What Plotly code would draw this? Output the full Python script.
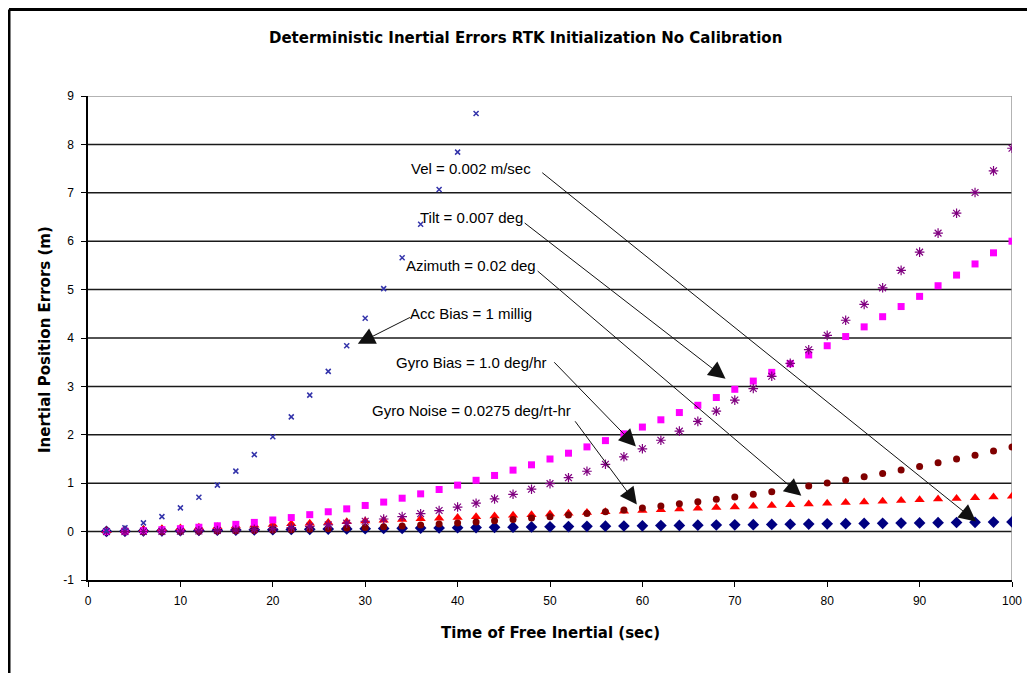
import plotly.graph_objects as go

# ---------------- data ----------------
time_s = [2, 4, 6, 8, 10, 12, 14, 16, 18, 20, 22, 24, 26, 28, 30, 32, 34, 36, 38, 40,
          42, 44, 46, 48, 50, 52, 54, 56, 58, 60, 62, 64, 66, 68, 70, 72, 74, 76, 78, 80,
          82, 84, 86, 88, 90, 92, 94, 96, 98, 100]

acc_time = [2, 4, 6, 8, 10, 12, 14, 16, 18, 20, 22, 24, 26, 28, 30, 32, 34, 36, 38, 40, 42]
acc_bias_err = [0.02, 0.08, 0.18, 0.31, 0.49, 0.71, 0.96, 1.25, 1.59, 1.96, 2.37, 2.82,
                3.31, 3.84, 4.41, 5.02, 5.66, 6.35, 7.07, 7.84, 8.64]

vel_err = [0.004, 0.008, 0.012, 0.016, 0.02, 0.024, 0.028, 0.032, 0.036, 0.04, 0.044, 0.048,
           0.052, 0.056, 0.06, 0.064, 0.068, 0.072, 0.076, 0.08, 0.084, 0.088, 0.092, 0.096,
           0.10, 0.104, 0.108, 0.112, 0.116, 0.12, 0.124, 0.128, 0.132, 0.136, 0.14, 0.144,
           0.148, 0.152, 0.156, 0.16, 0.164, 0.168, 0.172, 0.176, 0.18, 0.184, 0.188, 0.192,
           0.196, 0.20]

tilt_err = [0.002, 0.01, 0.02, 0.04, 0.06, 0.09, 0.12, 0.15, 0.19, 0.24, 0.29, 0.35, 0.41,
            0.47, 0.54, 0.61, 0.69, 0.78, 0.87, 0.96, 1.06, 1.16, 1.27, 1.38, 1.50, 1.62,
            1.75, 1.88, 2.02, 2.16, 2.31, 2.46, 2.61, 2.77, 2.94, 3.11, 3.29, 3.47, 3.65,
            3.84, 4.03, 4.23, 4.44, 4.65, 4.86, 5.08, 5.30, 5.53, 5.76, 6.00]

azimuth_err = [0.015, 0.03, 0.044, 0.058, 0.073, 0.088, 0.10, 0.117, 0.13, 0.146, 0.16,
               0.175, 0.19, 0.204, 0.22, 0.234, 0.248, 0.263, 0.277, 0.29, 0.307, 0.32,
               0.336, 0.35, 0.365, 0.38, 0.394, 0.41, 0.423, 0.438, 0.45, 0.467, 0.48,
               0.496, 0.51, 0.526, 0.54, 0.555, 0.57, 0.584, 0.60, 0.613, 0.628, 0.642,
               0.657, 0.672, 0.686, 0.70, 0.715, 0.73]

gyro_bias_err = [0.0001, 0.0005, 0.002, 0.004, 0.008, 0.014, 0.022, 0.032, 0.046, 0.063,
                 0.084, 0.109, 0.139, 0.174, 0.214, 0.26, 0.311, 0.37, 0.435, 0.507, 0.587,
                 0.675, 0.771, 0.876, 0.99, 1.114, 1.247, 1.391, 1.545, 1.711, 1.887, 2.076,
                 2.277, 2.49, 2.717, 2.956, 3.209, 3.477, 3.758, 4.055, 4.367, 4.694, 5.037,
                 5.397, 5.774, 6.167, 6.578, 7.007, 7.454, 7.92]

gyro_noise_err = [0.0001, 0.0006, 0.0015, 0.0032, 0.0055, 0.0087, 0.0128, 0.0179, 0.0241,
                  0.0313, 0.0397, 0.0494, 0.0603, 0.0726, 0.0863, 0.101, 0.118, 0.136, 0.156,
                  0.177, 0.20, 0.225, 0.251, 0.279, 0.309, 0.341, 0.375, 0.411, 0.448, 0.488,
                  0.53, 0.573, 0.619, 0.667, 0.717, 0.77, 0.824, 0.881, 0.94, 1.002, 1.066,
                  1.132, 1.20, 1.271, 1.345, 1.421, 1.499, 1.58, 1.664, 1.75]

y_ticks = [-1, 0, 1, 2, 3, 4, 5, 6, 7, 8, 9]
y_tick_labels = ["-1", "0", "1", "2", "3", "4", "5", "6", "7", "8", "9"]
x_ticks = [0, 10, 20, 30, 40, 50, 60, 70, 80, 90, 100]

label_texts = ["Vel = 0.002 m/sec", "Tilt = 0.007 deg", "Azimuth = 0.02 deg",
               "Acc Bias = 1 millig", "Gyro Bias = 1.0 deg/hr",
               "Gyro Noise = 0.0275 deg/rt-hr"]
label_y = [7.5, 6.5, 5.5, 4.5, 3.5, 2.5]
arrow_tail_x = [49.0, 47.1, 48.5, 35.0, 50.3, 52.6]
arrow_tail_y = [7.44, 6.40, 5.41, 4.44, 3.53, 2.31]
arrow_tip_x = [96.1, 69.0, 77.2, 29.2, 59.3, 59.4]
arrow_tip_y = [0.21, 3.16, 0.74, 3.88, 1.76, 0.56]

FONT = "Liberation Sans, Arial, sans-serif"
BOLD_FONT = "DejaVu Sans, Arial, sans-serif"

fig = go.Figure()

fig.add_trace(go.Scatter(x=time_s, y=vel_err, mode="markers", name="Vel",
                         marker=dict(symbol="diamond", size=9, color="#000080")))
fig.add_trace(go.Scatter(x=time_s, y=azimuth_err, mode="markers", name="Azimuth",
                         marker=dict(symbol="triangle-up", size=9, color="#FF0000")))
fig.add_trace(go.Scatter(x=time_s, y=gyro_noise_err, mode="markers", name="Gyro Noise",
                         marker=dict(symbol="circle", size=7, color="#800000")))
fig.add_trace(go.Scatter(x=time_s, y=tilt_err, mode="markers", name="Tilt",
                         marker=dict(symbol="square", size=7, color="#FF00FF")))
fig.add_trace(go.Scatter(x=time_s, y=gyro_bias_err, mode="markers", name="Gyro Bias",
                         marker=dict(symbol="asterisk-open", size=8, color="#800080",
                                     line=dict(color="#800080", width=1.2))))
fig.add_trace(go.Scatter(x=acc_time, y=acc_bias_err, mode="markers", name="Acc Bias",
                         marker=dict(symbol="x-thin-open", size=5, color="#3333AA",
                                     line=dict(color="#3333AA", width=1.5))))

shapes = []
for v in y_ticks[1:-1]:
    shapes.append(dict(type="line", xref="x", yref="y", x0=0, x1=100, y0=v, y1=v,
                       line=dict(color="#1a1a1a", width=1.5), layer="below"))
# gray plot-area border (top and right)
shapes.append(dict(type="line", xref="x", yref="y", x0=0, x1=100, y0=9, y1=9,
                   line=dict(color="#9a9a9a", width=1.5), layer="below"))
shapes.append(dict(type="line", xref="x", yref="y", x0=100, x1=100, y0=-1, y1=9,
                   line=dict(color="#9a9a9a", width=1.5), layer="below"))
# outer black frame (top and left), at the very edge of the figure
shapes.append(dict(type="line", xref="paper", yref="paper", x0=-0.0855, x1=1.06,
                   y0=1.1787, y1=1.1787, line=dict(color="black", width=3)))
shapes.append(dict(type="line", xref="paper", yref="paper", x0=-0.0855, x1=-0.0855,
                   y0=1.1787, y1=-0.25, line=dict(color="black", width=3)))

annotations = []
for txt, ly in zip(label_texts, label_y):
    annotations.append(dict(x=41.5, y=ly, xref="x", yref="y", text=txt, showarrow=False,
                            xanchor="center", yanchor="middle",
                            font=dict(family=FONT, size=15, color="black")))
for tx, ty, hx, hy in zip(arrow_tail_x, arrow_tail_y, arrow_tip_x, arrow_tip_y):
    annotations.append(dict(x=hx, y=hy, xref="x", yref="y", ax=tx, ay=ty, axref="x",
                            ayref="y", text="", showarrow=True, arrowhead=2,
                            arrowsize=3.4, arrowwidth=1, arrowcolor="#111"))

annotations.append(dict(x=0.473, y=1.12, xref="paper", yref="paper",
                        text="<b>Deterministic Inertial Errors RTK Initialization No Calibration</b>",
                        showarrow=False, xanchor="center", yanchor="middle",
                        font=dict(family=BOLD_FONT, size=15, color="black")))
annotations.append(dict(x=0.5, y=-0.1086, xref="paper", yref="paper",
                        text="<b>Time of Free Inertial (sec)</b>",
                        showarrow=False, xanchor="center", yanchor="middle",
                        font=dict(family=BOLD_FONT, size=15, color="black")))
annotations.append(dict(x=-0.0465, y=0.496, xref="paper", yref="paper",
                        text="<b>Inertial Position Errors (m)</b>", textangle=-90,
                        showarrow=False, xanchor="center", yanchor="middle",
                        font=dict(family=BOLD_FONT, size=15, color="black")))

# the page adds an 8px body margin, so the figure is shifted up/left by 8px
fig.update_layout(
    width=1035, height=673,
    margin=dict(l=80, r=31, t=88, b=101),
    paper_bgcolor="white", plot_bgcolor="white",
    showlegend=False,
    font=dict(family=FONT, size=12, color="black"),
    shapes=shapes, annotations=annotations,
    xaxis=dict(range=[0, 100], tickvals=x_ticks, showgrid=False, zeroline=False,
               showline=True, linecolor="black", linewidth=1.5, ticks="outside",
               ticklen=5, tickcolor="black", tickfont=dict(size=12),
               ticklabelstandoff=4),
    yaxis=dict(range=[-1, 9], tickvals=y_ticks, ticktext=y_tick_labels,
               showgrid=False, zeroline=False,
               showline=True, linecolor="black", linewidth=1.5, ticks="outside",
               ticklen=5, tickcolor="black", tickfont=dict(size=12),
               ticklabelstandoff=5),
)

fig.write_html("out.html")
